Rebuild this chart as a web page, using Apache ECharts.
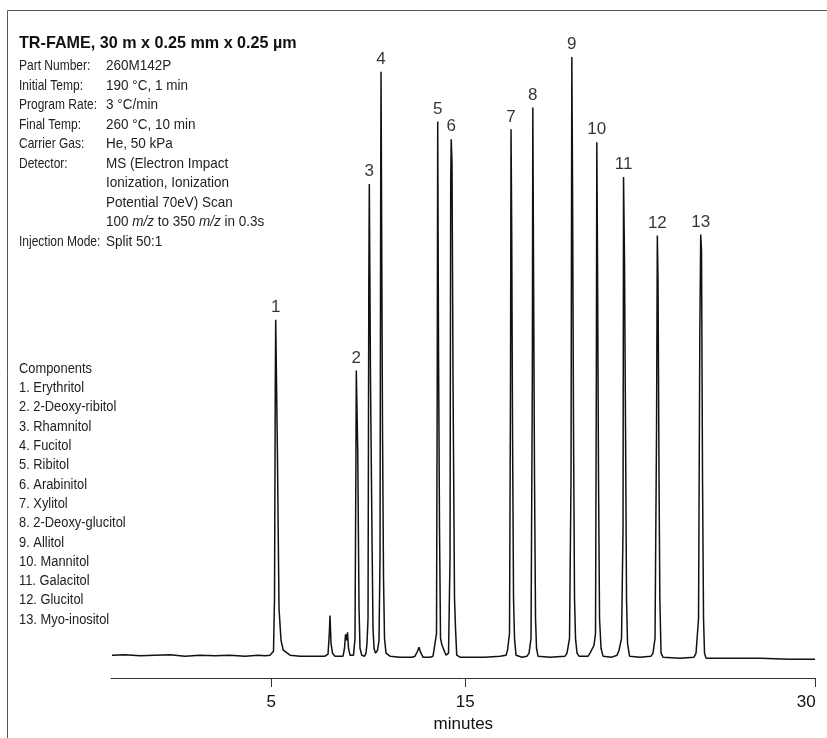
<!DOCTYPE html>
<html><head><meta charset="utf-8">
<script src="https://cdn.jsdelivr.net/npm/echarts@6/dist/echarts.min.js"></script>
<style>html,body{margin:0;padding:0;background:#fff}#c{width:827px;height:738px}</style>
</head><body><div id="c"></div>
<script>
// Retention time (minutes) and detector response (arbitrary units)
const traceTime = [
 -3.211,-2.541,-1.768,-0.995,-0.222,0.552,1.325,2.098,2.871,3.644,4.314,4.675,4.933,
 5.036,5.113,5.165,5.206,5.227,5.309,5.397,5.500,5.619,5.964,
 6.479,7.253,7.768,
 7.923,7.990,8.026,8.077,8.155,8.284,
 8.696,8.773,8.825,8.876,8.928,8.979,9.057,
 9.237,9.314,9.356,9.381,9.454,9.521,9.572,9.660,
 9.804,9.881,9.933,
 9.985,10.026,10.052,10.113,10.191,10.242,10.294,10.371,
 10.474,10.552,10.603,10.639,10.655,10.732,10.784,10.835,10.912,11.119,
 11.634,12.253,
 12.407,12.536,12.613,12.691,12.820,13.180,
 13.335,13.438,13.515,13.552,13.577,13.619,13.670,13.722,13.799,13.902,14.005,
 14.134,14.211,14.247,14.273,14.314,14.366,14.443,14.495,14.557,14.727,
 15.242,16.015,16.789,17.098,
 17.175,17.278,17.330,17.356,17.392,17.433,17.485,17.536,17.613,
 17.923,18.180,
 18.284,18.387,18.454,18.479,18.515,18.567,18.619,18.670,18.747,
 19.366,20.139,
 20.242,20.371,20.448,20.490,20.526,20.577,20.629,20.680,20.758,20.861,
 21.325,
 21.428,21.634,21.711,21.753,21.778,21.814,21.866,21.918,21.995,22.098,
 22.562,22.820,
 22.923,23.052,23.129,23.155,23.206,23.258,23.309,23.361,23.464,
 24.000,24.572,
 24.675,24.778,24.856,24.897,24.933,24.985,25.026,25.088,25.191,
 26.067,26.789,
 26.892,27.021,27.088,27.134,27.175,27.227,27.278,27.330,27.407,
 28.644,30.191,31.737,33.026
];
const traceResponse = [
 23,23.5,22.5,23,23.5,22,23,22.5,23,22,23,22.5,23,
 23,27,80,300,361,236,70,38,28,23,
 22,22,22,
 24,45,63,35,25,22,
 22,30,44,38,46,30,23,
 23,40,200,310,230,70,30,23,
 22,25,35,
 60,400,498,300,140,50,30,25,
 28,38,120,500,611,250,100,40,25,22,
 21,21,
 22,27,31,26,21,21,
 22,35,45,300,561,330,150,40,33,28,23,
 25,120,500,543,520,300,80,50,23,21,
 21,21,22,23,
 28,45,300,553,450,250,80,40,23,
 21,22,
 25,40,300,575,420,200,60,30,22,
 21,22,
 25,40,200,626,500,250,80,40,25,22,
 22,
 25,33,45,300,540,420,200,60,30,22,
 21,23,
 28,40,150,505,420,250,80,35,22,
 21,22,
 25,40,250,446,400,200,80,25,21,
 20,21,
 25,60,350,447,430,200,60,25,20,
 20,20,19,19
];
// Peak numbers and apex positions
const peakNumbers = ['1','2','3','4','5','6','7','8','9','10','11','12','13'];
const peakTime = [5.227,9.381,10.052,10.655,13.577,14.273,17.356,18.479,20.490,21.778,23.155,24.897,27.134];
const peakResponse = [361,310,498,611,561,543,553,575,626,540,505,446,447];
// Axis ticks
const tickValues = [5, 15, 33.06];
const tickLabels = ['5', '15', '30'];
// Method text
const title = 'TR-FAME, 30 m x 0.25 mm x 0.25 µm';
const paramNames = ['Part Number:', 'Initial Temp:', 'Program Rate:', 'Final Temp:', 'Carrier Gas:', 'Detector:', '', '', '', 'Injection Mode:'];
const paramValues = ['260M142P', '190 °C, 1 min', '3 °C/min', '260 °C, 10 min', 'He, 50 kPa', 'MS (Electron Impact', 'Ionization, Ionization', 'Potential 70eV) Scan', '100 {i|m/z} to 350 {i|m/z} in 0.3s', 'Split 50:1'];
const components = ['Components', '1. Erythritol', '2. 2-Deoxy-ribitol', '3. Rhamnitol', '4. Fucitol', '5. Ribitol', '6. Arabinitol', '7. Xylitol', '8. 2-Deoxy-glucitol', '9. Allitol', '10. Mannitol', '11. Galacitol', '12. Glucitol', '13. Myo-inositol'];

const SANS = '"Liberation Sans",Arial,Helvetica,sans-serif';

const chart = echarts.init(document.getElementById('c'), null, {renderer: 'canvas'});
const graphics = [];
graphics.push({type: 'rect', shape: {x: 7.5, y: 10.5, width: 900, height: 800}, style: {fill: 'none', stroke: '#555', lineWidth: 1}, silent: true});
graphics.push({type: 'text', x: 19, y: 34.5, scaleX: 0.95, style: {text: title, font: 'bold 17px ' + SANS, fill: '#111', verticalAlign: 'top'}});
paramNames.forEach((n, i) => {
  const y = 58.5 + i * 19.5;
  if (n) graphics.push({type: 'text', x: 19, y: y, scaleX: 0.8, style: {text: n, font: '15px ' + SANS, fill: '#222', verticalAlign: 'top'}});
  graphics.push({type: 'text', x: 106, y: y, scaleX: 0.9, style: {text: paramValues[i], font: '15px ' + SANS, fill: '#222', verticalAlign: 'top',
    rich: {i: {fontStyle: 'italic', fontSize: 15, fontFamily: SANS, fill: '#222'}}}});
});
components.forEach((c, i) => {
  graphics.push({type: 'text', x: 19, y: 362 + i * 19.3, scaleX: 0.92, style: {text: c, font: '14px ' + SANS, fill: '#222', verticalAlign: 'top'}});
});

chart.setOption({
  animation: false,
  grid: {left: 111, right: 11.3, top: 50, bottom: 55},
  xAxis: {
    type: 'value', min: -3.263, max: 33.06,
    splitLine: {show: false},
    axisLine: {show: true, lineStyle: {color: '#333', width: 1}},
    axisTick: {show: true, length: 9, lineStyle: {color: '#333'}, customValues: tickValues},
    axisLabel: {customValues: tickValues, color: '#111', fontSize: 17, fontFamily: SANS, margin: 15.5,
      formatter: v => { const i = tickValues.findIndex(t => Math.abs(t - v) < 0.01); return i >= 0 ? tickLabels[i] : ''; },
      alignMaxLabel: 'right'},
    name: 'minutes', nameLocation: 'middle', nameGap: 38,
    nameTextStyle: {color: '#111', fontSize: 17, fontFamily: SANS}
  },
  yAxis: {type: 'value', min: 0, max: 633, show: false},
  graphic: graphics,
  series: [
    {type: 'line', data: traceTime.map((t, i) => [t, traceResponse[i]]), showSymbol: false, symbol: 'none',
     lineStyle: {color: '#111', width: 1.5}, silent: true},
    {type: 'scatter', data: peakTime.map((t, i) => [t, peakResponse[i]]), symbolSize: 0,
     label: {show: true, position: 'top', distance: 4, formatter: p => peakNumbers[p.dataIndex],
       color: '#000', fontSize: 17, fontFamily: SANS}, silent: true}
  ]
});
</script></body></html>
